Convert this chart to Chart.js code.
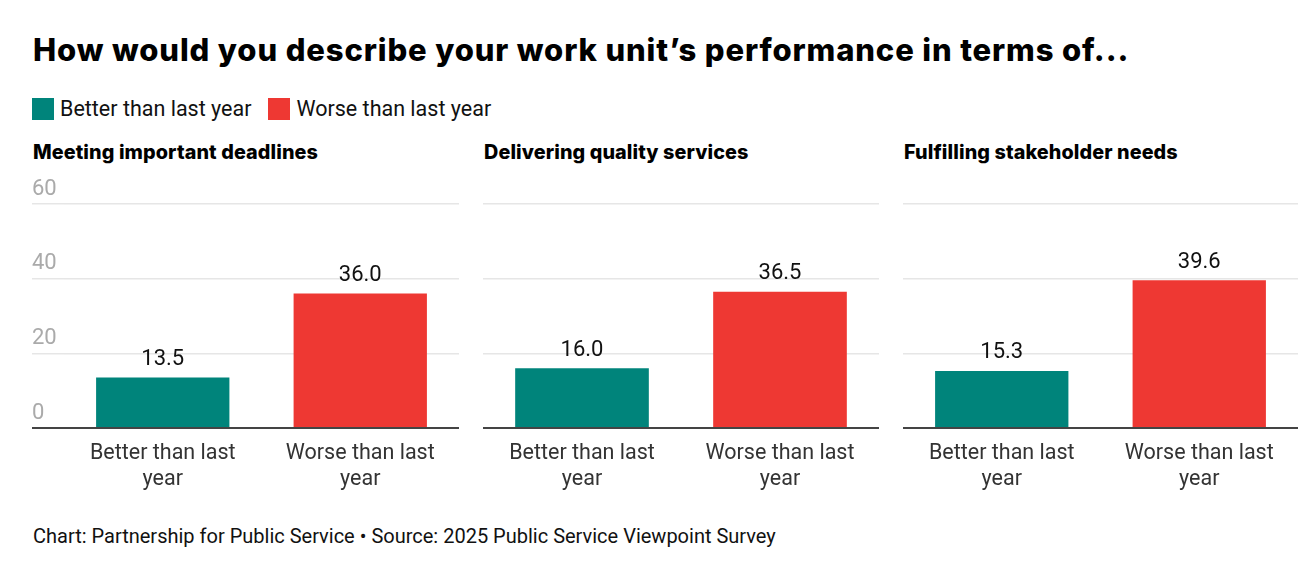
<!DOCTYPE html>
<html>
<head>
<meta charset="utf-8">
<script src="https://cdn.jsdelivr.net/npm/chart.js@4.4.1/dist/chart.umd.min.js"></script>
<style>
  html, body { margin:0; padding:0; background:#fff; }
  body { width:1308px; height:574px; position:relative; overflow:hidden; font-family: Roboto, "Noto Sans", sans-serif; color:#111; }
  .title { position:absolute; left:33px; top:31px; font-family: Inter, "Noto Sans", sans-serif; font-weight:800; font-size:31px; letter-spacing:0.87px; color:#000; white-space:nowrap; }
  .legend { position:absolute; left:32px; top:96px; display:flex; align-items:center; font-size:21.5px; color:#111; white-space:nowrap; }
  .legend .sw { width:22px; height:22px; display:inline-block; margin-right:6px; }
  .legend .item { display:flex; align-items:center; margin-right:17px; }
  .ptitle { position:absolute; top:140px; font-family: Inter, "Noto Sans", sans-serif; font-weight:800; font-size:19.8px; color:#000; white-space:nowrap; letter-spacing:0.1px; }
  .panel { position:absolute; top:170px; height:330px; }
  .source { position:absolute; left:33px; top:524px; font-size:20px; color:#111; white-space:nowrap; }
</style>
</head>
<body>
<div class="title">How would you describe your work unit’s performance in terms of...</div>
<div class="legend" id="legend"></div>
<div id="panels"></div>
<div class="source">Chart: Partnership for Public Service • Source: 2025 Public Service Viewpoint Survey</div>
<script>
// ---- Data ----
const panelTitles = ["Meeting important deadlines", "Delivering quality services", "Fulfilling stakeholder needs"];
const categories = ["Better than last year", "Worse than last year"];
const categoryLabels = [["Better than last", "year"], ["Worse than last", "year"]];
const betterValues = [13.5, 16.0, 15.3];
const worseValues = [36.0, 36.5, 39.6];
const yTicks = [0, 20, 40, 60];

// ---- Styles ----
const colors = ["#00847B", "#EE3833"];
const panelBoxes = [
  { left: 32, width: 427, axis: true },
  { left: 483, width: 396, axis: false },
  { left: 903, width: 395, axis: false }
];

// Legend
const legendEl = document.getElementById('legend');
categories.forEach((c, i) => {
  const it = document.createElement('div');
  it.className = 'item';
  it.innerHTML = '<span class="sw" style="background:' + colors[i] + '"></span><span>' + c + '</span>';
  legendEl.appendChild(it);
});

const valueLabelPlugin = {
  id: 'valueLabels',
  afterDatasetsDraw(chart) {
    const ctx = chart.ctx;
    const meta = chart.getDatasetMeta(0);
    ctx.save();
    ctx.font = '22px Roboto, "Noto Sans", sans-serif';
    ctx.fillStyle = '#111';
    ctx.textAlign = 'center';
    ctx.textBaseline = 'bottom';
    meta.data.forEach((bar, i) => {
      const v = chart.data.datasets[0].data[i];
      ctx.fillText(v.toFixed(1), bar.x, bar.y - 7);
    });
    ctx.restore();
  }
};

const panelsEl = document.getElementById('panels');
panelTitles.forEach((t, p) => {
  const box = panelBoxes[p];
  const title = document.createElement('div');
  title.className = 'ptitle';
  title.style.left = (p === 0 ? 33 : box.left + 1) + 'px';
  title.textContent = t;
  panelsEl.appendChild(title);

  const wrap = document.createElement('div');
  wrap.className = 'panel';
  wrap.style.left = box.left + 'px';
  wrap.style.width = box.width + 'px';
  const cv = document.createElement('canvas');
  wrap.appendChild(cv);
  panelsEl.appendChild(wrap);

  const gridColor = (c) => (c.tick && c.tick.value === 0) ? '#444' : '#e6e6e6';
  const gridWidth = (c) => (c.tick && c.tick.value === 0) ? 2 : 1.5;

  new Chart(cv, {
    type: 'bar',
    data: {
      labels: categoryLabels,
      datasets: [{
        data: [betterValues[p], worseValues[p]],
        backgroundColor: colors,
        borderWidth: 0,
        barPercentage: 0.675,
        categoryPercentage: 1.0
      }]
    },
    options: {
      responsive: true,
      maintainAspectRatio: false,
      animation: false,
      layout: { padding: { top: 34, left: 0, right: 0, bottom: 0 } },
      plugins: { legend: { display: false }, tooltip: { enabled: false } },
      scales: {
        x: {
          grid: { display: false, drawTicks: false },
          border: { display: false },
          ticks: {
            color: '#333',
            font: { family: 'Roboto, "Noto Sans", sans-serif', size: 21.5, lineHeight: 1.24 },
            padding: 12,
            maxRotation: 0,
            autoSkip: false
          },
          afterFit: (s) => { s.height = 72; }
        },
        y: {
          min: 0, max: 60,
          afterBuildTicks: (s) => { s.ticks = yTicks.map(v => ({ value: v })); },
          grid: {
            color: gridColor,
            tickColor: gridColor,
            lineWidth: gridWidth,
            drawTicks: box.axis,
            tickLength: box.axis ? 32 : 0
          },
          border: { display: false },
          ticks: {
            display: box.axis,
            color: '#aaa',
            font: { family: 'Roboto, "Noto Sans", sans-serif', size: 22 },
            crossAlign: 'far',
            labelOffset: -15,
            padding: 0
          },
          afterFit: (s) => { s.width = box.axis ? 32 : 0; }
        }
      }
    },
    plugins: [valueLabelPlugin]
  });
});
</script>
</body>
</html>
